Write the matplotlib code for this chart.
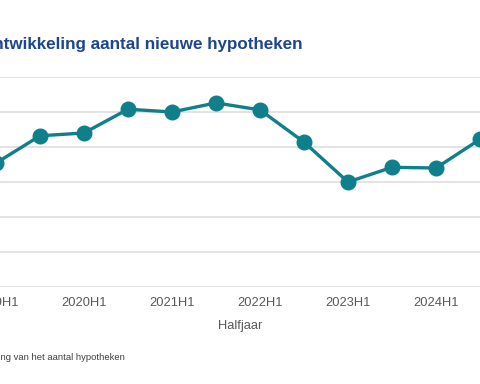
import matplotlib
matplotlib.use("Agg")
import matplotlib.pyplot as plt

periods = ["2019H1", "2019H2", "2020H1", "2020H2", "2021H1", "2021H2",
           "2022H1", "2022H2", "2023H1", "2023H2", "2024H1", "2024H2"]
values = [177000, 216000, 220000, 254000, 250000, 263000,
          253000, 207000, 150000, 171000, 170000, 211000]
tick_labels = ["2019H1", "2020H1", "2021H1", "2022H1", "2023H1", "2024H1"]

W, H = 480, 384
fig = plt.figure(figsize=(4.8, 3.84), dpi=100)
plt.rcParams['font.family'] = ['Liberation Sans', 'DejaVu Sans']

# axes extends beyond the canvas (chart is cropped on both sides)
L, R, T, B = -60, 540, 77, 287
ax = fig.add_axes([L / W, (H - B) / H, (R - L) / W, (B - T) / H])
x = list(range(len(periods)))
ax.plot(x, values, color="#0f7f8c", lw=2.4, marker="o", ms=10.5,
        markerfacecolor="#0f7f8c", markeredgecolor="#0f7f8c", clip_on=False, zorder=3)
ax.set_xlim((L + 4) / 44, (R + 4) / 44)
ax.set_ylim(0, 300000)
ax.set_yticks(range(0, 300001, 50000))
ax.yaxis.grid(True, color="#e3e3e3", lw=1.4)
ax.set_axisbelow(True)
for s in ax.spines.values():
    s.set_visible(False)
ax.tick_params(axis="y", left=False, labelleft=False)
ax.set_xticks([periods.index(t) for t in tick_labels])
ax.set_xticklabels(tick_labels, fontsize=9.3, color="#595959")
ax.tick_params(axis="x", length=0, pad=7)
ax.set_xlabel("Halfjaar", fontsize=9.3, color="#595959", labelpad=8)

fig.text(303 / W, (H - 45) / H, "Ontwikkeling aantal nieuwe hypotheken",
         ha="right", va="center", fontsize=12.25, fontweight="bold", color="#1d4590")
fig.text(125 / W, (H - 357) / H, "Ontwikkeling van het aantal hypotheken",
         ha="right", va="center", fontsize=6.8, color="#404040")

fig.savefig("out.png", dpi=100)
